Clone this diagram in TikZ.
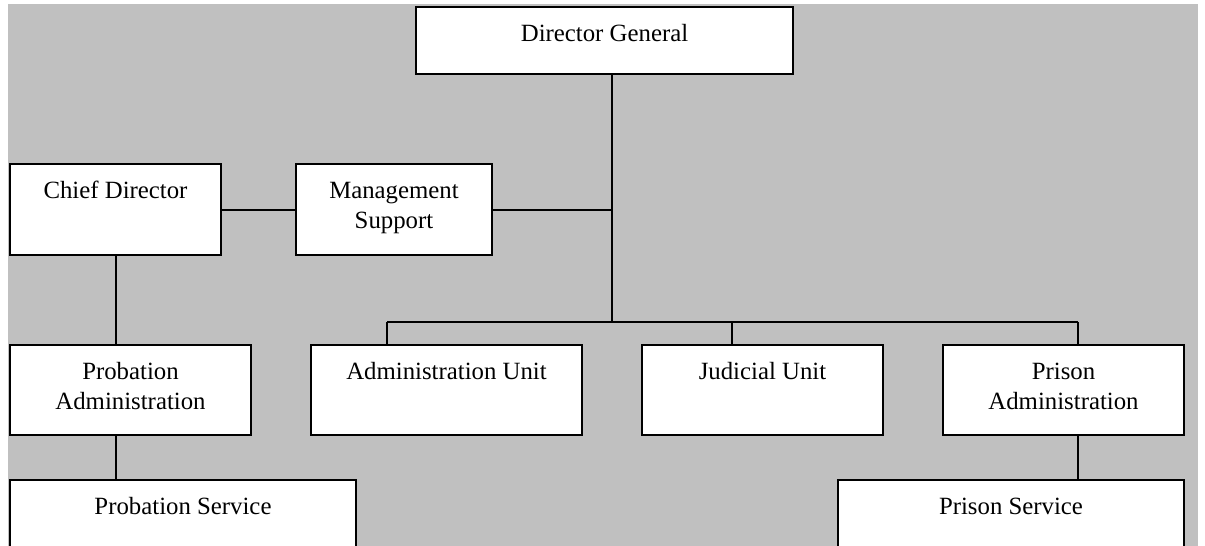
\documentclass[tikz,border=0pt]{standalone}
\usepackage{fontspec}
\setmainfont{Liberation Serif}
\definecolor{panel}{HTML}{C0C0C0}
\begin{document}
\begin{tikzpicture}[x=0.5pt,y=-0.5pt,
  unitbox/.style={draw=black, fill=white, line width=1pt, inner sep=0pt},
  lbl/.style={font=\fontsize{12.4}{15}\selectfont, align=center, inner sep=0pt, anchor=base},
  link/.style={draw=black, line width=1pt}]
  \useasboundingbox (0,0) rectangle (1205,546);
  \clip (0,0) rectangle (1205,546);
  \fill[panel] (8,4) rectangle (1198,560);

  % boxes: centre from (left+right)/2, (top+bottom)/2
  \node[unitbox, minimum width=188.5pt, minimum height=33.5pt] (dg)  at (604.5,40.5) {};
  \node[unitbox, minimum width=105.5pt, minimum height=45.5pt] (cd)  at (115.5,209.5) {};
  \node[unitbox, minimum width=98pt,    minimum height=45.5pt] (ms)  at (394,209.5) {};
  \node[unitbox, minimum width=120.5pt, minimum height=45pt]   (pa)  at (130.5,390) {};
  \node[unitbox, minimum width=135.5pt, minimum height=45pt]   (au)  at (446.5,390) {};
  \node[unitbox, minimum width=120.5pt, minimum height=45pt]   (ju)  at (762.5,390) {};
  \node[unitbox, minimum width=120.5pt, minimum height=45pt]   (pra) at (1063.5,390) {};
  \node[unitbox, minimum width=173pt,   minimum height=45pt]   (ps)  at (183,525) {};
  \node[unitbox, minimum width=173pt,   minimum height=45pt]   (prs) at (1011,525) {};

  % labels; the base anchor sits on the last line
  \node[lbl] (dgt)  at (604.5,41)  {Director General};
  \node[lbl] (cdt)  at (115.5,198) {Chief Director};
  \node[lbl] (mst)  at (394,228)   {Management\\Support};
  \node[lbl] (pat)  at (130.5,409) {Probation\\Administration};
  \node[lbl] (aut)  at (446.5,379) {Administration Unit};
  \node[lbl] (jut)  at (762.5,379) {Judicial Unit};
  \node[lbl] (prat) at (1063.5,409) {Prison\\Administration};
  \node[lbl] (pst)  at (183,514)   {Probation Service};
  \node[lbl] (prst) at (1011,514)  {Prison Service};

  % junction points of the tree
  \coordinate (trunk) at (612,209.5);
  \coordinate (bus)   at (612,322);
  \coordinate (dA)    at (387,322);
  \coordinate (dJ)    at (732,322);
  \coordinate (dP)    at (1078,322);
  \coordinate (left)  at (116,0);

  \draw[link] (dg.south -| bus) -- (bus);
  \draw[link] (ms.east) -- (trunk);
  \draw[link] (cd.east) -- (ms.west);
  \draw[link] (cd.south -| left) -- (pa.north -| left);
  \draw[link] (pa.south -| left) -- (ps.north -| left);
  \draw[link] (dA) -- (dP);
  \draw[link] (dA) -- (au.north -| dA);
  \draw[link] (dJ) -- (ju.north -| dJ);
  \draw[link] (dP) -- (pra.north -| dP);
  \draw[link] (pra.south -| dP) -- (prs.north -| dP);
\end{tikzpicture}
\end{document}
